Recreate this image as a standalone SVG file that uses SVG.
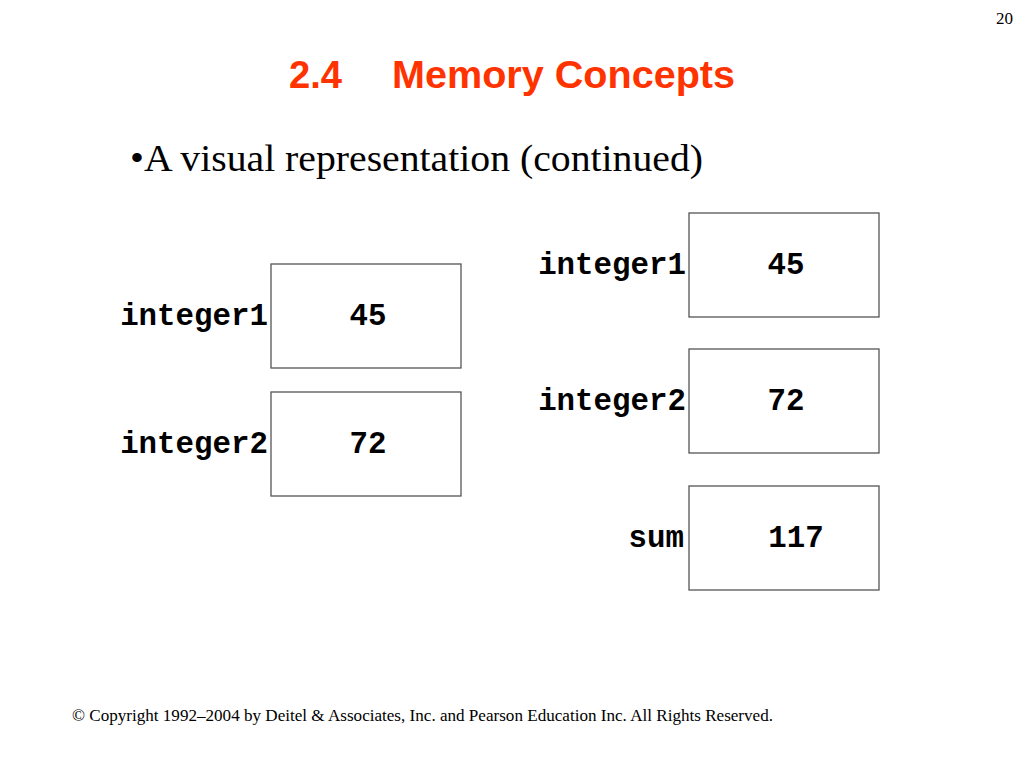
<svg xmlns="http://www.w3.org/2000/svg" width="1024" height="768" viewBox="0 0 1024 768">
<style>
.box{fill:#fff;stroke:#555;stroke-width:1.3}
.lbl{font-family:"Liberation Mono",monospace;font-weight:bold;font-size:30.8px;fill:#000}
.val{font-family:"Liberation Mono",monospace;font-weight:bold;font-size:30.8px;fill:#000;text-anchor:middle}
.serif{font-family:"Liberation Serif",serif;fill:#000}
.title{font-family:"Liberation Sans",Arial,sans-serif;font-weight:bold;font-size:38px;fill:#FF3300}
</style>
<rect width="1024" height="768" fill="#fff"/>
<text class="serif" x="1013" y="24" font-size="17" text-anchor="end">20</text>
<text class="title" x="289" y="88" textLength="53" lengthAdjust="spacingAndGlyphs">2.4</text>
<text class="title" x="392" y="88" textLength="343" lengthAdjust="spacingAndGlyphs">Memory Concepts</text>
<text class="serif" x="130" y="171" font-size="38" textLength="573" lengthAdjust="spacingAndGlyphs">•A visual representation (continued)</text>
<g id="left-integer1">
<rect class="box" x="271" y="264" width="190" height="104"/>
<text class="lbl" x="268" y="325" text-anchor="end">integer1</text>
<text class="val" x="368" y="325">45</text>
</g>
<g id="left-integer2">
<rect class="box" x="271" y="392" width="190" height="104"/>
<text class="lbl" x="268" y="453" text-anchor="end">integer2</text>
<text class="val" x="368" y="453">72</text>
</g>
<g id="right-integer1">
<rect class="box" x="689" y="213" width="190" height="104"/>
<text class="lbl" x="686" y="274" text-anchor="end">integer1</text>
<text class="val" x="786" y="274">45</text>
</g>
<g id="right-integer2">
<rect class="box" x="689" y="349" width="190" height="104"/>
<text class="lbl" x="686" y="410" text-anchor="end">integer2</text>
<text class="val" x="786" y="410">72</text>
</g>
<g id="right-sum">
<rect class="box" x="689" y="486" width="190" height="104"/>
<text class="lbl" x="684" y="547" text-anchor="end">sum</text>
<text class="val" x="796" y="547">117</text>
</g>
<g id="connectors"/>
<text class="serif" x="72" y="721" font-size="17" textLength="701" lengthAdjust="spacingAndGlyphs">© Copyright 1992–2004 by Deitel &amp; Associates, Inc. and Pearson Education Inc. All Rights Reserved.</text>
</svg>
